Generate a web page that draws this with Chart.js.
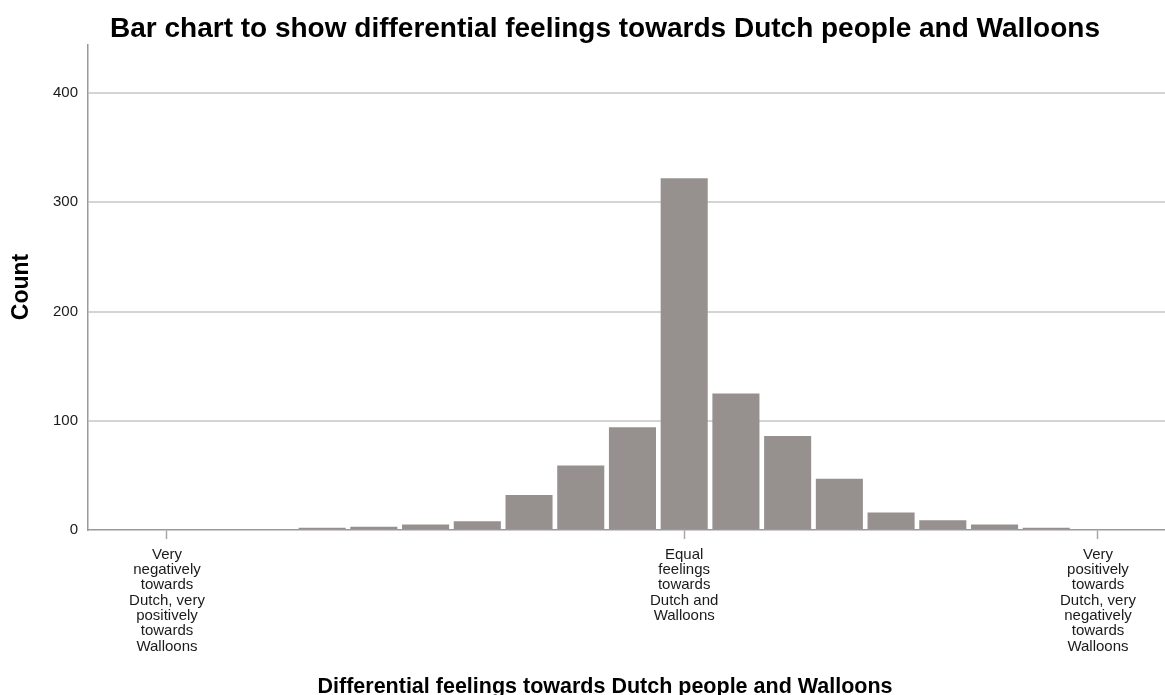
<!DOCTYPE html>
<html>
<head>
<meta charset="utf-8">
<title>Differential feelings towards Dutch people and Walloons</title>
<script src="https://cdn.jsdelivr.net/npm/chart.js@4.4.0/dist/chart.umd.min.js"></script>
<style>
  html, body { margin: 0; padding: 0; background: #ffffff; }
  canvas { display: block; }
</style>
</head>
<body>
<canvas id="chart" width="1165" height="695"></canvas>
<script>
// Differential score (Dutch minus Walloons); 0 = equal feelings
const scores = [-10, -9, -8, -7, -6, -5, -4, -3, -2, -1, 0, 1, 2, 3, 4, 5, 6, 7, 8];
const counts = [0, 1, 1, 2, 3, 5, 8, 32, 59, 94, 322, 125, 86, 47, 16, 9, 5, 2, 0];

// Labelled positions on the horizontal axis
const tickScores = [-10, 0, 8];
const tickLabels = [
  ['Very', 'negatively', 'towards', 'Dutch, very', 'positively', 'towards', 'Walloons'],
  ['Equal', 'feelings', 'towards', 'Dutch and', 'Walloons'],
  ['Very', 'positively', 'towards', 'Dutch, very', 'negatively', 'towards', 'Walloons']
];
const countTicks = [0, 100, 200, 300, 400];

const chartTitle = 'Bar chart to show differential feelings towards Dutch people and Walloons';
const xTitle = 'Differential feelings towards Dutch people and Walloons';
const yTitle = 'Count';

const FONT = '"Liberation Sans", Arial, Helvetica, sans-serif';

// Draws the chart heading and both axis titles
const titlesPlugin = {
  id: 'titles',
  afterDraw(chart) {
    const ctx = chart.ctx;
    const cx = 605;
    ctx.save();
    ctx.fillStyle = '#000000';
    ctx.textAlign = 'center';
    ctx.textBaseline = 'middle';
    ctx.font = 'bold 28px ' + FONT;
    ctx.fillText(chartTitle, cx, 29);
    ctx.font = 'bold 21.5px ' + FONT;
    ctx.fillText(xTitle, cx, 687);
    ctx.translate(22, 287);
    ctx.rotate(-Math.PI / 2);
    ctx.font = 'bold 23px ' + FONT;
    ctx.fillText(yTitle, 0, 0);
    ctx.restore();
  }
};

new Chart(document.getElementById('chart'), {
  type: 'bar',
  data: {
    datasets: [{
      label: yTitle,
      data: scores.map((s, i) => ({ x: s, y: counts[i] })),
      backgroundColor: '#96918f',
      borderWidth: 0,
      barPercentage: 0.91,
      categoryPercentage: 1
    }]
  },
  options: {
    responsive: false,
    animation: false,
    layout: { padding: { top: 45, left: 0, right: 0, bottom: 0 } },
    plugins: {
      legend: { display: false },
      tooltip: { enabled: false },
      title: { display: false }
    },
    scales: {
      x: {
        type: 'linear',
        offset: false,
        min: -11.527,
        max: 9.296,
        afterFit: s => { s.height = 165; },
        afterBuildTicks: s => { s.ticks = tickScores.map(v => ({ value: v })); },
        grid: {
          offset: false,
          drawOnChartArea: false,
          drawTicks: true,
          tickLength: 9,
          tickColor: '#a8a8a8',
          tickWidth: 1.5
        },
        border: { color: '#9a9a9a', width: 1.5 },
        ticks: {
          autoSkip: false,
          maxRotation: 0,
          minRotation: 0,
          padding: 8,
          color: '#1a1a1a',
          font: { family: FONT, size: 15, lineHeight: 1.02 },
          callback: v => {
            const i = tickScores.indexOf(v);
            return i >= 0 ? tickLabels[i] : '';
          }
        }
      },
      y: {
        min: 0,
        max: 444,
        afterFit: s => { s.width = 88; },
        afterBuildTicks: s => { s.ticks = countTicks.map(v => ({ value: v })); },
        grid: {
          drawTicks: false,
          lineWidth: 2,
          color: c => (c.tick && c.tick.value === 0) ? 'rgba(0,0,0,0)' : '#d4d4d4'
        },
        border: { color: '#9a9a9a', width: 1.5 },
        ticks: {
          padding: 10,
          color: '#1a1a1a',
          font: { family: FONT, size: 15 }
        }
      }
    }
  },
  plugins: [titlesPlugin]
});
</script>
</body>
</html>
